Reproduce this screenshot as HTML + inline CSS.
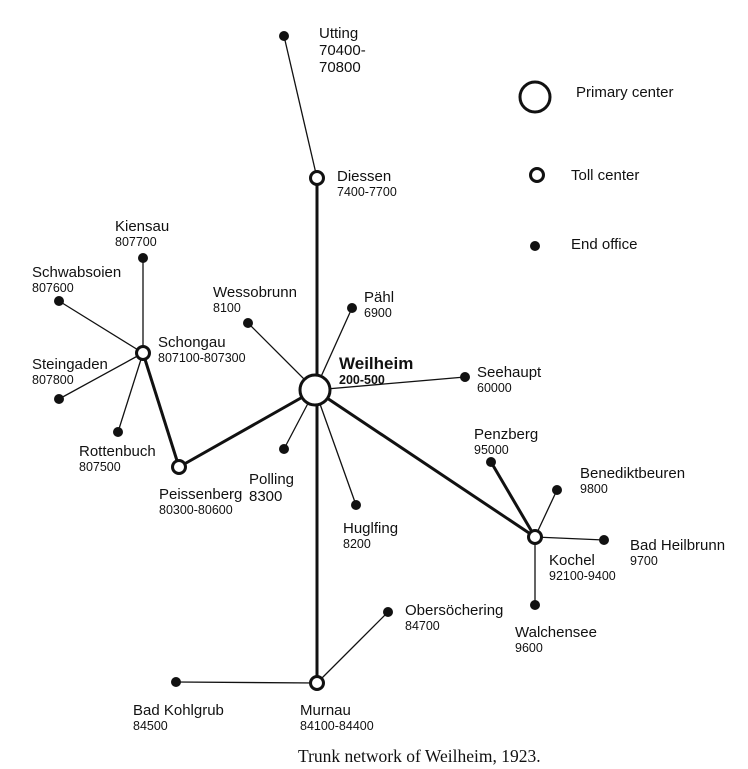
<!DOCTYPE html>
<html><head><style>
body{margin:0;background:#fff;}
svg{display:block;font-family:"Liberation Sans",Arial,sans-serif;}
.n{font-size:15px;fill:#111;}
.c{font-size:12.5px;fill:#111;}
</style></head><body>
<svg width="748" height="769" viewBox="0 0 748 769" xmlns="http://www.w3.org/2000/svg">
<g stroke="#111" fill="none">
<g stroke-width="3">
<line x1="317" y1="178" x2="317" y2="683"/>
<line x1="315" y1="390" x2="179" y2="467"/>
<line x1="179" y1="467" x2="143" y2="353"/>
<line x1="315" y1="390" x2="535" y2="537"/>
<line x1="491" y1="462" x2="535" y2="537"/>
</g>
<g stroke-width="1.3">
<line x1="284" y1="36" x2="317" y2="178"/>
<line x1="143" y1="258" x2="143" y2="353"/>
<line x1="59" y1="301" x2="143" y2="353"/>
<line x1="59" y1="399" x2="143" y2="353"/>
<line x1="118" y1="432" x2="143" y2="353"/>
<line x1="248" y1="323" x2="315" y2="390"/>
<line x1="352" y1="308" x2="315" y2="390"/>
<line x1="465" y1="377" x2="315" y2="390"/>
<line x1="284" y1="449" x2="315" y2="390"/>
<line x1="356" y1="505" x2="315" y2="390"/>
<line x1="557" y1="490" x2="535" y2="537"/>
<line x1="604" y1="540" x2="535" y2="537"/>
<line x1="535" y1="605" x2="535" y2="537"/>
<line x1="388" y1="612" x2="317" y2="683"/>
<line x1="176" y1="682" x2="317" y2="683"/>
</g>
</g>
<g fill="#111">
<circle cx="284" cy="36" r="5"/><circle cx="143" cy="258" r="5"/><circle cx="59" cy="301" r="5"/>
<circle cx="59" cy="399" r="5"/><circle cx="118" cy="432" r="5"/><circle cx="248" cy="323" r="5"/>
<circle cx="352" cy="308" r="5"/><circle cx="465" cy="377" r="5"/><circle cx="284" cy="449" r="5"/>
<circle cx="356" cy="505" r="5"/><circle cx="491" cy="462" r="5"/><circle cx="557" cy="490" r="5"/>
<circle cx="604" cy="540" r="5"/><circle cx="535" cy="605" r="5"/><circle cx="388" cy="612" r="5"/>
<circle cx="176" cy="682" r="5"/><circle cx="535" cy="246" r="5"/>
</g>
<g fill="#fff" stroke="#111" stroke-width="3">
<circle cx="315" cy="390" r="15"/>
<circle cx="535" cy="97" r="15"/>
<circle cx="317" cy="178" r="6.5"/><circle cx="143" cy="353" r="6.5"/><circle cx="179" cy="467" r="6.5"/>
<circle cx="535" cy="537" r="6.5"/><circle cx="317" cy="683" r="6.5"/><circle cx="537" cy="175" r="6.5"/>
</g>
<text class="n" x="319" y="38">Utting</text><text class="n" x="319" y="55">70400-</text><text class="n" x="319" y="72">70800</text>
<text class="n" x="337" y="181">Diessen</text><text class="c" x="337" y="196">7400-7700</text>
<text class="n" x="576" y="97">Primary center</text>
<text class="n" x="571" y="180">Toll center</text>
<text class="n" x="571" y="249">End office</text>
<text class="n" x="115" y="231">Kiensau</text><text class="c" x="115" y="246">807700</text>
<text class="n" x="32" y="277">Schwabsoien</text><text class="c" x="32" y="292">807600</text>
<text class="n" x="213" y="297">Wessobrunn</text><text class="c" x="213" y="312">8100</text>
<text class="n" x="364" y="302">Pähl</text><text class="c" x="364" y="317">6900</text>
<text class="n" x="158" y="347">Schongau</text><text class="c" x="158" y="362">807100-807300</text>
<text class="n" x="339" y="369" style="font-weight:bold;font-size:17px">Weilheim</text><text class="c" x="339" y="384" style="font-weight:bold">200-500</text>
<text class="n" x="477" y="377">Seehaupt</text><text class="c" x="477" y="392">60000</text>
<text class="n" x="32" y="369">Steingaden</text><text class="c" x="32" y="384">807800</text>
<text class="n" x="79" y="456">Rottenbuch</text><text class="c" x="79" y="471">807500</text>
<text class="n" x="249" y="484">Polling</text><text class="n" x="249" y="501">8300</text>
<text class="n" x="159" y="499">Peissenberg</text><text class="c" x="159" y="514">80300-80600</text>
<text class="n" x="474" y="439">Penzberg</text><text class="c" x="474" y="454">95000</text>
<text class="n" x="580" y="478">Benediktbeuren</text><text class="c" x="580" y="493">9800</text>
<text class="n" x="343" y="533">Huglfing</text><text class="c" x="343" y="548">8200</text>
<text class="n" x="630" y="550">Bad Heilbrunn</text><text class="c" x="630" y="565">9700</text>
<text class="n" x="549" y="565">Kochel</text><text class="c" x="549" y="580">92100-9400</text>
<text class="n" x="405" y="615">Obersöchering</text><text class="c" x="405" y="630">84700</text>
<text class="n" x="515" y="637">Walchensee</text><text class="c" x="515" y="652">9600</text>
<text class="n" x="133" y="715">Bad Kohlgrub</text><text class="c" x="133" y="730">84500</text>
<text class="n" x="300" y="715">Murnau</text><text class="c" x="300" y="730">84100-84400</text>
<text x="298" y="762" style="font-family:'Liberation Serif',serif;font-size:17.5px;fill:#111">Trunk network of Weilheim, 1923.</text>
</svg>
</body></html>
